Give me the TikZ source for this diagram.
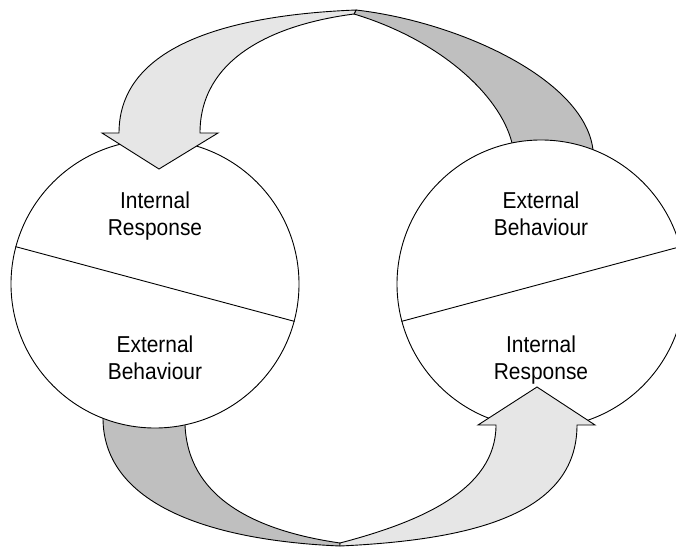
\documentclass[tikz,border=0pt]{standalone}
\usepackage{fontspec}
\setmainfont{Liberation Sans}[FakeStretch=0.91]
\definecolor{lightfill}{HTML}{E6E6E6}
\definecolor{darkfill}{HTML}{BFBFBF}
\begin{document}
\begin{tikzpicture}[x=1pt,y=-1pt,
  outline/.style={draw=black,line width=0.9pt,line join=miter},
  ring/.style={outline,fill=white},
  lab/.style={anchor=base,inner sep=0pt,font=\fontsize{23}{27}\selectfont}]
\useasboundingbox (0,0) rectangle (676,548);
\clip (0,0) rectangle (676,548);
% named geometric points
\coordinate (Lc) at (155,284);
\coordinate (Rc) at (541,284);
% dark arrow tails (behind circles)
\path[outline,fill=darkfill] (356,10) .. controls (460,22) and (585,80) .. (593,150)
  -- (593,175) -- (512,175) -- (512,143) .. controls (500,95) and (440,40) .. (354,14) -- cycle;
\path[outline,fill=darkfill] (103,390) -- (103,418) .. controls (103,500) and (200,540) .. (340,546)
  -- (340,543) .. controls (250,530) and (188,495) .. (185,425) -- (185,390) -- cycle;
% circles
\node[ring,circle,minimum size=288pt,inner sep=0pt] (L) at (Lc) {};
\node[ring,circle,minimum size=288pt,inner sep=0pt] (R) at (Rc) {};
\draw[line width=0.9pt] (L.165) -- (L.-15);
\draw[line width=0.9pt] (R.195) -- (R.15);
% light arrows (over circles)
\path[outline,fill=lightfill] (356,10) .. controls (230,15) and (119,45) .. (119,133)
  -- (102,133) -- (159,169) -- (218,133) -- (200,133)
  .. controls (200,60) and (270,25) .. (354,14) -- cycle;
\path[outline,fill=lightfill] (340,546) .. controls (470,540) and (577,515) .. (577,425)
  -- (595,425) -- (537,387) -- (478,425) -- (496,425)
  .. controls (496,490) and (420,522) .. (340,543) -- cycle;
% labels
\node[lab] (l1) at (155,208) {\begin{tabular}[t]{@{}c@{}}Internal\\Response\end{tabular}};
\node[lab] (l2) at (155,352) {\begin{tabular}[t]{@{}c@{}}External\\Behaviour\end{tabular}};
\node[lab] (r1) at (541,208) {\begin{tabular}[t]{@{}c@{}}External\\Behaviour\end{tabular}};
\node[lab] (r2) at (541,352) {\begin{tabular}[t]{@{}c@{}}Internal\\Response\end{tabular}};
\end{tikzpicture}
\end{document}
